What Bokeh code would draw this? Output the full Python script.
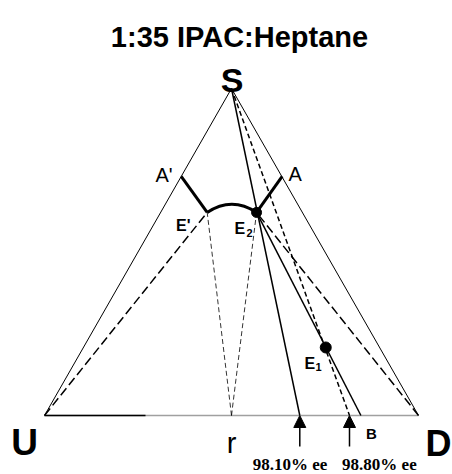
from bokeh.plotting import figure
from bokeh.models import Range1d, Arrow, NormalHead
from bokeh.core.properties import value
from bokeh.embed import file_html
from bokeh.resources import INLINE

# ---- data (ternary diagram, base U-D = 0..1, apex S at height 1) ----
U = [0.0, 0.0]
D = [1.0, 0.0]
S = [0.5, 1.0]
A_prime = [0.3655, 0.731]
A_pt = [0.6355, 0.731]
E_prime = [0.435, 0.621]
E2 = [0.567, 0.621]
E1 = [0.752, 0.208]
arc_top_y = 0.646
r_x = 0.5
B_x = 0.846
ee_labels = ["98.10% ee", "98.80% ee"]
ee_x = [0.6826, 0.8155]
title_text = "1:35 IPAC:Heptane"

# ---- layout helpers (page pixels -> data) ----
W, H = 452, 474
def X(px):
    return (px - 44) / 374
def Y(py):
    return (415 - py) / 327

p = figure(width=W, height=H, output_backend="svg", toolbar_location=None,
           x_range=Range1d(X(0), X(W)), y_range=Range1d(Y(H), Y(0)),
           min_border=0)
p.axis.visible = False
p.grid.visible = False
p.outline_line_color = None
p.background_fill_color = "white"

# triangle sides
p.line([U[0], S[0], D[0]], [U[1], S[1], D[1]], line_color="black", line_width=1)
# base: grey, with black left part
p.line([U[0], D[0]], [U[1], D[1]], line_color="#a0a0a0", line_width=1.3)
p.line([U[0], X(145)], [U[1], U[1]], line_color="black", line_width=1.3)

# long dashed tie lines U-E', D-E2
p.line([U[0], E_prime[0]], [U[1], E_prime[1]], line_color="black", line_width=1.5, line_dash="9 4")
p.line([D[0], E2[0]], [D[1], E2[1]], line_color="black", line_width=1.5, line_dash="9 4")

# thin dashed r-E', r-E2
p.line([r_x, E_prime[0]], [0, E_prime[1]], line_color="black", line_width=0.8, line_dash="5 3")
p.line([r_x, E2[0]], [0, E2[1]], line_color="black", line_width=0.8, line_dash="5 3")

# solid S -> E2 -> 98.10% point
p.line([S[0], ee_x[0]], [S[1], 0], line_color="black", line_width=1.5)
# solid E2 -> E1 -> B
p.line([E2[0], B_x], [E2[1], 0], line_color="black", line_width=1.5)
# dashed S -> E1 -> 98.80% point
p.line([S[0], ee_x[1]], [S[1], 0], line_color="black", line_width=1.5, line_dash="5 3")

# thick binodal pieces
p.line([A_prime[0], E_prime[0]], [A_prime[1], E_prime[1]], line_color="black", line_width=3)
p.line([A_pt[0], E2[0]], [A_pt[1], E2[1]], line_color="black", line_width=3)
p.quadratic(x0=[E_prime[0]], y0=[E_prime[1]], x1=[E2[0]], y1=[E2[1]],
            cx=[(E_prime[0] + E2[0]) / 2], cy=[2 * arc_top_y - (E_prime[1] + E2[1]) / 2],
            line_color="black", line_width=3)

# points
p.scatter([E2[0]], [E2[1]], size=10, color="black")
p.scatter([E1[0]], [E1[1]], size=11, color="black")

# arrows
for xa in ee_x:
    p.add_layout(Arrow(end=NormalHead(size=12, fill_color="black", line_color="black"),
                       x_start=xa, y_start=Y(446), x_end=xa, y_end=0,
                       line_color="black", line_width=1.5))

sans = value("Liberation Sans")
serif = value("Liberation Serif")

def label(x, y, t, size, style="bold", align="left", font=sans):
    p.text(x=[x], y=[y], text=[t], text_font=font, text_font_size=value(size),
           text_font_style=style, text_align=align, text_baseline="alphabetic",
           text_color="black")

label(X(239), Y(36.7), title_text, "29px", align="center")
label(S[0] + X(231.7) - X(231), Y(79), "S", "34px", align="center")
label(X(24.2), Y(442), "U", "37px", align="center")
label(X(425), Y(443), "D", "36px")
label(r_x, Y(442), "r", "29px", style="normal", align="center")
label(X(155), Y(174), "A'", "20px", style="normal")
label(X(288), Y(173.5), "A", "20px", style="normal")
label(X(175.5), Y(225), "E'", "16px")
label(X(234), Y(228.3), "E", "16px")
label(X(246), Y(232), "2", "11px")
label(X(304), Y(363.3), "E", "16px")
label(X(315), Y(366.5), "1", "11px")
label(X(365.5), Y(432.7), "B", "15px")
ee_offsets = [-0.026, 0.08]
for xa, off, t in zip(ee_x, ee_offsets, ee_labels):
    label(xa + off, Y(464), t, "17px", align="center", font=serif)

open("out.html", "w").write(file_html(p, INLINE))
